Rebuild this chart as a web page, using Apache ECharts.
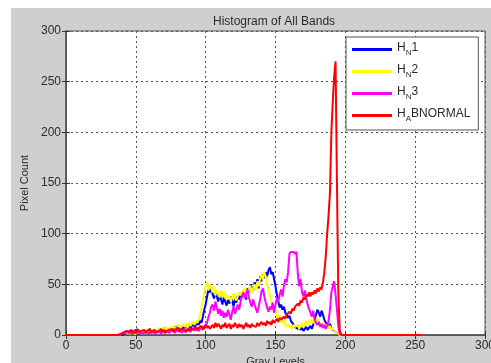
<!DOCTYPE html>
<html>
<head>
<meta charset="utf-8">
<script src="https://cdn.jsdelivr.net/npm/echarts@6/dist/echarts.min.js"></script>
<style>
  html, body { margin: 0; padding: 0; background: #fff; }
  #wrap { position: relative; width: 491px; height: 363px; overflow: hidden; }
  #chart { position: absolute; left: 11px; top: 8px; width: 480px; height: 355px; }
</style>
</head>
<body>
<div id="wrap"><div id="chart"></div></div>
<script>
// gray levels (x) shared by all four histograms
var grayLevels = [
  0, 37,
  38, 39, 40, 41, 42, 43, 44,
  45, 46, 47, 48, 49, 50, 51, 52, 53, 54,
  55, 56, 57, 58, 59, 60, 61, 62, 63, 64,
  65, 66, 67, 68, 69, 70, 71, 72, 73, 74,
  75, 76, 77, 78, 79, 80, 81, 82, 83, 84,
  85, 86, 87, 88, 89, 90, 91, 92, 93, 94,
  95, 96, 97, 98, 99, 100, 101, 102, 103, 104,
  105, 106, 107, 108, 109, 110, 111, 112, 113, 114,
  115, 116, 117, 118, 119, 120, 121, 122, 123, 124,
  125, 126, 127, 128, 129, 130, 131, 132, 133, 134,
  135, 136, 137, 138, 139, 140, 141, 142, 143, 144,
  145, 146, 147, 148, 149, 150, 151, 152, 153, 154,
  155, 156, 157, 158, 159, 160, 161, 162, 163, 164,
  165, 166, 167, 168, 169, 170, 171, 172, 173, 174,
  175, 176, 177, 178, 179, 180, 181, 182, 183, 184,
  185, 186, 187, 188, 189, 190, 191, 192, 193, 194,
  195, 196, 197,
  198, 255
];

// pixel counts, band 1 (blue)
var hN1 = [
  0, 0,
  0, 0, 1, 0, 2, 1, 3,
  2, 4, 1, 3, 2, 5, 3, 1, 4, 2,
  3, 5, 2, 4, 3, 2, 5, 3, 4, 2,
  4, 3, 6, 2, 5, 4, 7, 3, 6, 5,
  4, 7, 5, 8, 6, 9, 7, 5, 8, 6,
  9, 7, 10, 8, 6, 9, 11, 8, 10, 12,
  10, 14, 12, 18, 25, 30, 38, 45, 42, 47,
  40, 36, 44, 38, 33, 41, 35, 30, 37, 33,
  29, 35, 31, 38, 34, 28, 36, 32, 39, 35,
  41, 37, 44, 39, 35, 46, 42, 50, 47, 44,
  52, 48, 55, 46, 58, 53, 60, 56, 62, 58,
  64, 67, 60, 62, 55, 48, 40, 33, 27, 30,
  25, 28, 22, 20, 17, 19, 14, 12, 10, 8,
  9, 6, 8, 5, 7, 4, 6, 8, 5, 7,
  9, 6, 10, 14, 20, 25, 22, 18, 24, 20,
  15, 12, 10, 8, 11, 7, 5, 6, 3, 2,
  1, 0, 0,
  0, 0
];

// pixel counts, band 2 (yellow)
var hN2 = [
  0, 0,
  0, 1, 0, 2, 1, 3, 2,
  3, 1, 4, 2, 3, 1, 5, 2, 3, 4,
  2, 4, 3, 5, 2, 4, 6, 3, 5, 4,
  5, 3, 7, 4, 6, 8, 5, 7, 4, 6,
  8, 6, 9, 7, 5, 8, 10, 7, 9, 11,
  8, 10, 7, 12, 9, 11, 13, 10, 14, 12,
  15, 20, 28, 35, 42, 48, 52, 44, 50, 46,
  42, 48, 39, 45, 41, 37, 44, 38, 42, 36,
  40, 35, 39, 33, 37, 41, 36, 34, 38, 42,
  39, 44, 40, 47, 43, 38, 45, 49, 41, 46,
  50, 44, 53, 48, 56, 60, 54, 62, 58, 50,
  45, 40, 34, 28, 22, 25, 19, 16, 20, 14,
  12, 15, 10, 8, 11, 7, 9, 6, 10, 8,
  7, 10, 6, 9, 12, 8, 11, 14, 10, 13,
  16, 12, 15, 11, 14, 17, 13, 10, 12, 9,
  11, 8, 10, 6, 9, 5, 7, 4, 3, 2,
  1, 0, 0,
  0, 0
];

// pixel counts, band 3 (magenta)
var hN3 = [
  0, 0,
  0, 0, 2, 1, 3, 2, 4,
  2, 5, 3, 1, 4, 2, 3, 5, 2, 3,
  1, 3, 2, 4, 1, 3, 2, 4, 3, 1,
  3, 2, 4, 1, 3, 5, 2, 4, 3, 2,
  4, 3, 5, 2, 4, 3, 6, 4, 2, 5,
  3, 5, 4, 6, 3, 5, 7, 4, 6, 5,
  4, 6, 5, 8, 6, 9, 12, 18, 22, 28,
  30, 24, 33, 27, 21, 26, 19, 24, 17, 22,
  18, 25, 20, 15, 23, 28, 21, 26, 30, 25,
  33, 38, 42, 36, 40, 45, 37, 32, 28, 35,
  30, 26, 22, 28, 35, 43, 46, 38, 32, 27,
  23, 28, 25, 32, 22, 30, 36, 33, 40, 45,
  38, 48, 55, 52, 62, 80, 82, 81, 82, 80,
  82, 60, 48, 55, 42, 38, 44, 36, 30, 26,
  22, 18, 24, 15, 12, 10, 13, 8, 11, 7,
  10, 6, 9, 14, 25, 42, 48, 53, 40, 25,
  8, 1, 0,
  0, 0
];

// pixel counts, abnormal image (red)
var hAbnormal = [
  0, 0,
  0, 1, 2, 1, 3, 2, 4,
  3, 2, 5, 3, 4, 2, 6, 3, 2, 4,
  3, 5, 2, 4, 3, 6, 2, 3, 5, 4,
  3, 2, 4, 6, 3, 5, 2, 4, 3, 5,
  4, 6, 3, 5, 4, 7, 3, 5, 4, 6,
  5, 3, 6, 4, 7, 5, 4, 6, 8, 5,
  7, 6, 9, 5, 8, 10, 7, 9, 6, 8,
  10, 7, 12, 8, 11, 9, 6, 10, 8, 12,
  7, 9, 11, 6, 10, 8, 12, 9, 7, 11,
  8, 10, 6, 9, 12, 8, 10, 7, 11, 9,
  10, 8, 12, 9, 11, 13, 10, 12, 9, 14,
  11, 13, 10, 15, 12, 14, 16, 13, 17, 15,
  14, 18, 16, 20, 19, 23, 21, 26, 24, 28,
  27, 31, 29, 34, 32, 37, 35, 40, 38, 42,
  38, 42, 40, 44, 41, 46, 43, 47, 45, 52,
  62, 78, 100, 118, 140, 200, 230, 255, 270, 150,
  40, 5, 0,
  0, 0
];

var axisTicks = [0, 50, 100, 150, 200, 250, 300];

var seriesNames = ['HN1', 'HN2', 'HN3', 'HABNORMAL'];
var seriesColors = ['#0000ff', '#ffff00', '#ff00ff', '#ff0000'];
var seriesValues = [hN1, hN2, hN3, hAbnormal];

function pairs(vals) {
  return grayLevels.map(function (x, i) { return [x, vals[i]]; });
}

var font = 'Liberation Sans, Arial, sans-serif';
var txt = '#2a2a2a';

var myChart = echarts.init(document.getElementById('chart'));

var axisBase = {
  type: 'value',
  min: axisTicks[0],
  max: axisTicks[axisTicks.length - 1],
  interval: 50
};

myChart.setOption({
  backgroundColor: '#cfcfcf',
  animation: false,
  title: {
    text: 'Histogram of All Bands',
    left: 197,
    top: 3,
    textStyle: { fontFamily: font, fontSize: 12, fontWeight: 'normal', color: txt }
  },
  grid: {
    left: 55, top: 23, right: 6, bottom: 28,
    outerBoundsMode: 'none',
    containLabel: false,
    show: true, backgroundColor: '#fff', borderColor: '#555', borderWidth: 1
  },
  legend: {
    orient: 'vertical',
    left: 335, top: 29,
    padding: [5, 8, 7, 6],
    itemGap: 7,
    itemWidth: 40, itemHeight: 3,
    icon: 'rect',
    backgroundColor: '#fff',
    borderColor: '#555', borderWidth: 1,
    data: seriesNames,
    formatter: function (name) {
      var sub = name === 'HABNORMAL' ? 'A' : 'N';
      return '{h|H}{s|' + sub + '}{h|' + name.slice(2) + '}';
    },
    textStyle: {
      fontFamily: font, color: txt,
      rich: {
        h: { fontFamily: font, fontSize: 12, color: txt, verticalAlign: 'top' },
        s: { fontFamily: font, fontSize: 8, color: txt, padding: [7, 0, 0, 0], verticalAlign: 'top' }
      }
    }
  },
  xAxis: [
    Object.assign({}, axisBase, {
      position: 'bottom',
      name: 'Gray Levels', nameLocation: 'middle', nameGap: 19,
      nameTextStyle: { fontFamily: font, fontSize: 11, color: txt },
      axisLine: { lineStyle: { color: '#555', width: 1.5 } },
      axisTick: { inside: true, length: 4, lineStyle: { color: '#333' } },
      axisLabel: { fontFamily: font, fontSize: 12, color: txt, margin: 5 },
      splitLine: { show: true, lineStyle: { type: [2, 3], color: '#555', width: 1 } }
    }),
    Object.assign({}, axisBase, {
      position: 'top',
      axisLine: { lineStyle: { color: '#555' } },
      axisTick: { inside: true, length: 4, lineStyle: { color: '#333' } },
      axisLabel: { show: false },
      splitLine: { show: false }
    })
  ],
  yAxis: [
    Object.assign({}, axisBase, {
      position: 'left',
      name: 'Pixel Count', nameLocation: 'middle', nameGap: 33,
      nameTextStyle: { fontFamily: font, fontSize: 11, color: txt },
      axisLine: { show: true, lineStyle: { color: '#555', width: 1.5 } },
      axisTick: { show: true, inside: true, length: 4, lineStyle: { color: '#333' } },
      axisLabel: { fontFamily: font, fontSize: 12, color: txt, margin: 5 },
      splitLine: { show: true, lineStyle: { type: [2, 3], color: '#555', width: 1 } }
    }),
    Object.assign({}, axisBase, {
      position: 'right',
      axisLine: { show: true, lineStyle: { color: '#555' } },
      axisTick: { show: true, inside: true, length: 4, lineStyle: { color: '#333' } },
      axisLabel: { show: false },
      splitLine: { show: false }
    })
  ],
  series: seriesNames.map(function (name, i) {
    return {
      name: name,
      type: 'line',
      data: pairs(seriesValues[i]),
      showSymbol: false,
      symbol: 'none',
      color: seriesColors[i],
      lineStyle: { width: 2, color: seriesColors[i] }
    };
  })
});
</script>
</body>
</html>
